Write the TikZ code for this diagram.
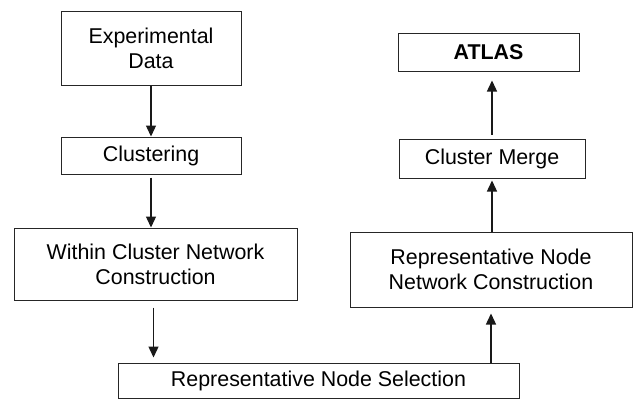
\documentclass[tikz,border=0pt]{standalone}
\usepackage{fontspec}
\setmainfont{Liberation Sans}
\usetikzlibrary{arrows.meta}

\tikzset{
  stepbox/.style={draw=black!85,line width=1pt,inner sep=0pt,align=center,
    font=\fontsize{21.4}{25}\selectfont},
  flow/.style={-{Triangle[length=11pt,width=10pt]},line width=1.4pt,draw=black!90}
}

\begin{document}
\begin{tikzpicture}[x=1pt,y=-1pt]
  \useasboundingbox (0,0) rectangle (633,400);
  % left column
  \node[stepbox,minimum width=180pt,minimum height=74pt] (data) at (151,48)
    {Experimental\\Data};
  \node[stepbox,minimum width=180pt,minimum height=37pt] (clust) at (151,155.5)
    {Clustering};
  \node[stepbox,minimum width=283pt,minimum height=72pt] (within) at (155.5,264)
    {Within Cluster Network\\Construction};
  % bottom
  \node[stepbox,minimum width=401pt,minimum height=35pt] (select) at (318.5,380.5)
    {Representative Node Selection};
  % right column
  \node[stepbox,minimum width=282pt,minimum height=75pt] (repnet) at (491,269.5)
    {Representative Node\\Network Construction};
  \node[stepbox,minimum width=186pt,minimum height=39pt] (merge) at (492,158.5)
    {Cluster Merge};
  \node[stepbox,minimum width=181pt,minimum height=38pt] (atlas) at (488.5,52)
    {\bfseries ATLAS};

  \draw[flow] (data.south) -- (clust.north);
  \draw[flow,shorten <=3pt] (clust.south) -- (clust.south |- within.north);
  \draw[flow,shorten <=7pt,shorten >=5pt] ([xshift=-2pt]within.south) -- ([xshift=-2pt]within.south |- select.north);
  \draw[flow,shorten >=6pt] (repnet.south |- select.north) -- (repnet.south);
  \draw[flow,shorten >=2pt] (merge.south |- repnet.north) -- (merge.south);
  \draw[flow,shorten <=4pt,shorten >=9pt] (merge.north) -- (merge.north |- atlas.south);
\end{tikzpicture}
\end{document}
